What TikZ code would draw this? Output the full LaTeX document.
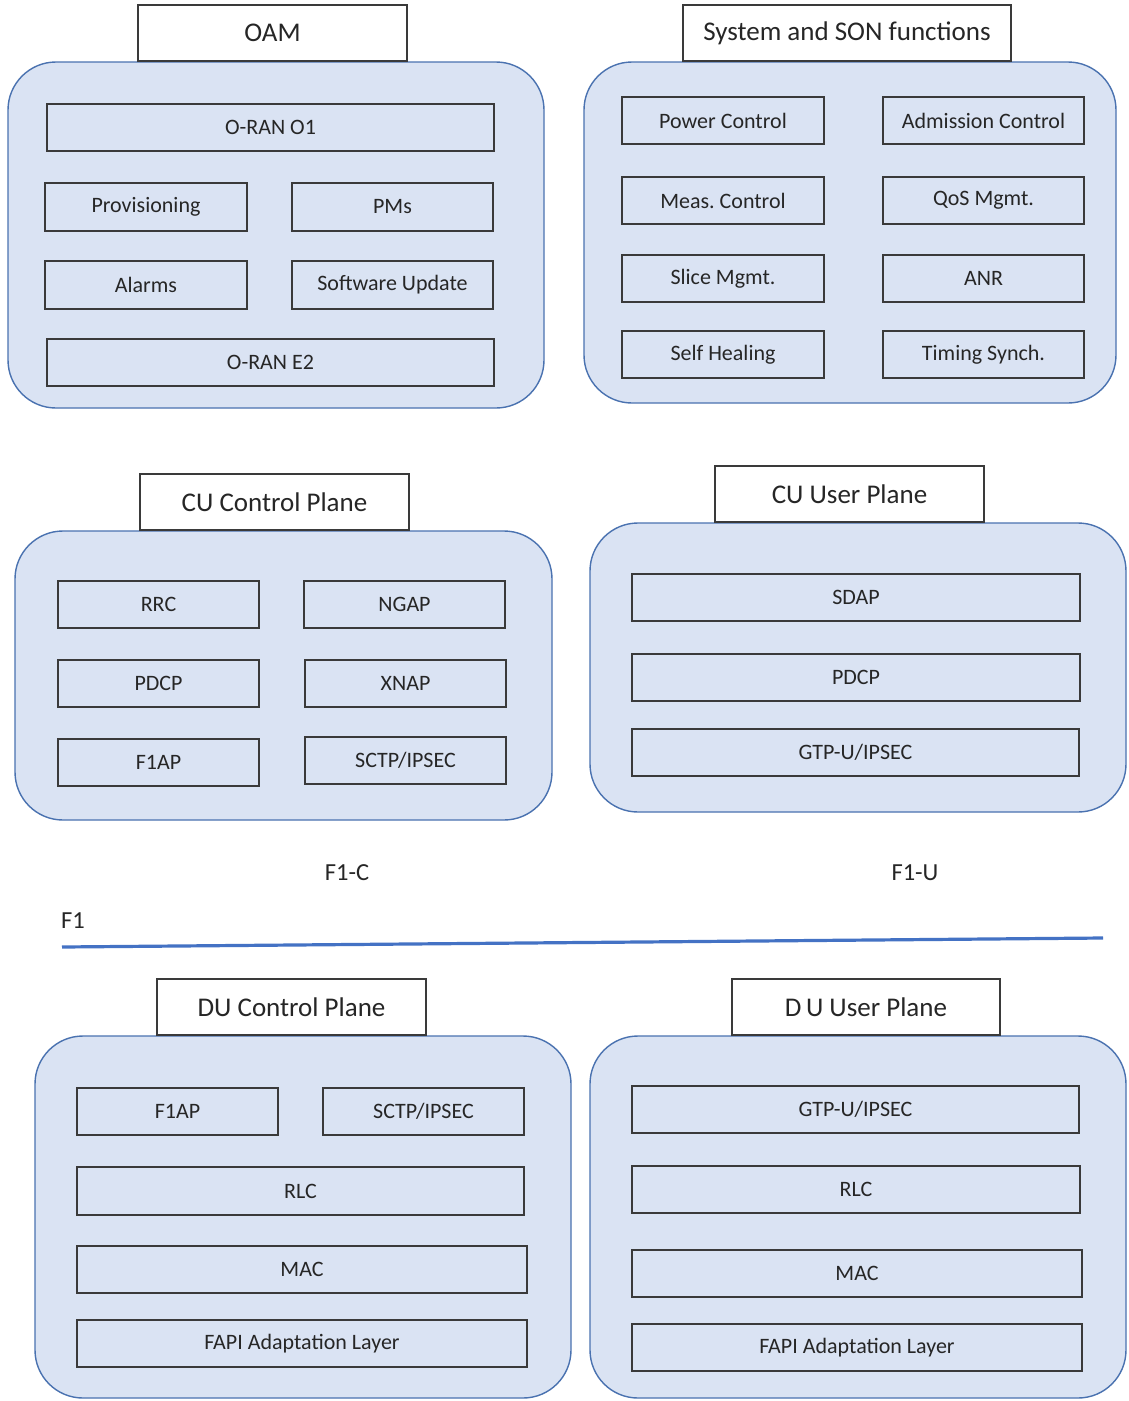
\documentclass[tikz,border=0pt]{standalone}
\usepackage{fontspec}
\setmainfont{Carlito}
\definecolor{panelfill}{HTML}{DAE3F3}
\definecolor{panelline}{HTML}{4A72B0}
\definecolor{boxline}{HTML}{3A3A3A}
\definecolor{txt}{HTML}{262626}
\definecolor{f1blue}{HTML}{4472C4}
\tikzset{
  panel/.style={draw=panelline, fill=panelfill, line width=1.4pt, rounded corners=48pt},
  inbox/.style={draw=boxline, fill=panelfill, line width=1.8pt, inner sep=0pt, text=txt, font=\fontsize{22}{26}\selectfont},
  titlebox/.style={draw=boxline, fill=white, line width=1.5pt, inner sep=0pt, text=txt, font=\fontsize{27}{31}\selectfont},
  lbl/.style={inner sep=0pt, text=txt, font=\fontsize{24.5}{28}\selectfont},
}
\newcommand\bx[7]{%
  \pgfmathsetmacro\bxw{#5-#3}\pgfmathsetmacro\bxh{#6-#4}%
  \node[#1, minimum width=\bxw pt, minimum height=\bxh pt] (#2) at ({(#3+#5)/2},{(#4+#6)/2}) {#7};}
\begin{document}
\begin{tikzpicture}[x=1pt,y=-1pt]
\path[use as bounding box, fill=white] (0,0) rectangle (1128,1401);

% ---------- OAM ----------
\draw[panel] (8,62) rectangle (544,408);
\bx{titlebox}{oam}{138}{5}{407}{61}{OAM}
\bx{inbox}{o1}{47}{104}{494}{151}{O-RAN O1}
\bx{inbox}{prov}{45}{183}{247}{231}{Provisioning}
\bx{inbox}{pms}{292}{183}{493}{231}{PMs}
\bx{inbox}{alarms}{45}{261}{247}{309}{Alarms}
\bx{inbox}{swu}{292}{261}{493}{309}{Software Update}
\bx{inbox}{e2}{47}{339}{494}{386}{O-RAN E2}

% ---------- System and SON ----------
\draw[panel] (584,62) rectangle (1116,403);
\bx{titlebox}{son}{683}{5}{1011}{61}{System and SON functions}
\bx{inbox}{pwr}{622}{97}{824}{144}{Power Control}
\bx{inbox}{adm}{883}{97}{1084}{144}{Admission Control}
\bx{inbox}{meas}{622}{177}{824}{224}{Meas.\ Control}
\bx{inbox}{qos}{883}{177}{1084}{224}{QoS Mgmt.}
\bx{inbox}{slice}{622}{255}{824}{302}{Slice Mgmt.}
\bx{inbox}{anr}{883}{255}{1084}{302}{ANR}
\bx{inbox}{heal}{622}{331}{824}{378}{Self Healing}
\bx{inbox}{tsync}{883}{331}{1084}{378}{Timing Synch.}

% ---------- CU Control Plane ----------
\draw[panel] (15,531) rectangle (552,820);
\bx{titlebox}{cucp}{140}{474}{409}{530}{CU Control Plane}
\bx{inbox}{rrc}{58}{581}{259}{628}{RRC}
\bx{inbox}{ngap}{304}{581}{505}{628}{NGAP}
\bx{inbox}{pdcpc}{58}{660}{259}{707}{PDCP}
\bx{inbox}{xnap}{305}{660}{506}{707}{XNAP}
\bx{inbox}{f1apc}{58}{739}{259}{786}{F1AP}
\bx{inbox}{sctpc}{305}{737}{506}{784}{SCTP/IPSEC}

% ---------- CU User Plane ----------
\draw[panel] (590,523) rectangle (1126,812);
\bx{titlebox}{cuup}{715}{466}{984}{522}{CU User Plane}
\bx{inbox}{sdap}{632}{574}{1080}{621}{SDAP}
\bx{inbox}{pdcpu}{632}{654}{1080}{701}{PDCP}
\bx{inbox}{gtpcu}{632}{729}{1079}{776}{GTP-U/IPSEC}

% ---------- F1 ----------
\node[lbl] (f1c) at (347,873) {F1-C};
\node[lbl] (f1u) at (915,873) {F1-U};
\node[lbl] (f1) at (73,921) {F1};
\coordinate (f1a) at (62,947);
\coordinate (f1b) at (1103,938);
\draw[f1blue, line width=3.2pt] (f1a) -- (f1b);

% ---------- DU Control Plane ----------
\draw[panel] (35,1036) rectangle (571,1398);
\bx{titlebox}{ducp}{157}{979}{426}{1035}{DU Control Plane}
\bx{inbox}{f1apd}{77}{1088}{278}{1135}{F1AP}
\bx{inbox}{sctpd}{323}{1088}{524}{1135}{SCTP/IPSEC}
\bx{inbox}{rlcc}{77}{1167}{524}{1215}{RLC}
\bx{inbox}{macc}{77}{1246}{527}{1293}{MAC}
\bx{inbox}{fapic}{77}{1320}{527}{1367}{FAPI Adaptation Layer}

% ---------- DU User Plane ----------
\draw[panel] (590,1036) rectangle (1126,1398);
\bx{titlebox}{duup}{732}{979}{1000}{1035}{D\,U User Plane}
\bx{inbox}{gtpdu}{632}{1086}{1079}{1133}{GTP-U/IPSEC}
\bx{inbox}{rlcu}{632}{1166}{1080}{1213}{RLC}
\bx{inbox}{macu}{632}{1250}{1082}{1297}{MAC}
\bx{inbox}{fapiu}{632}{1324}{1082}{1371}{FAPI Adaptation Layer}
\end{tikzpicture}
\end{document}
